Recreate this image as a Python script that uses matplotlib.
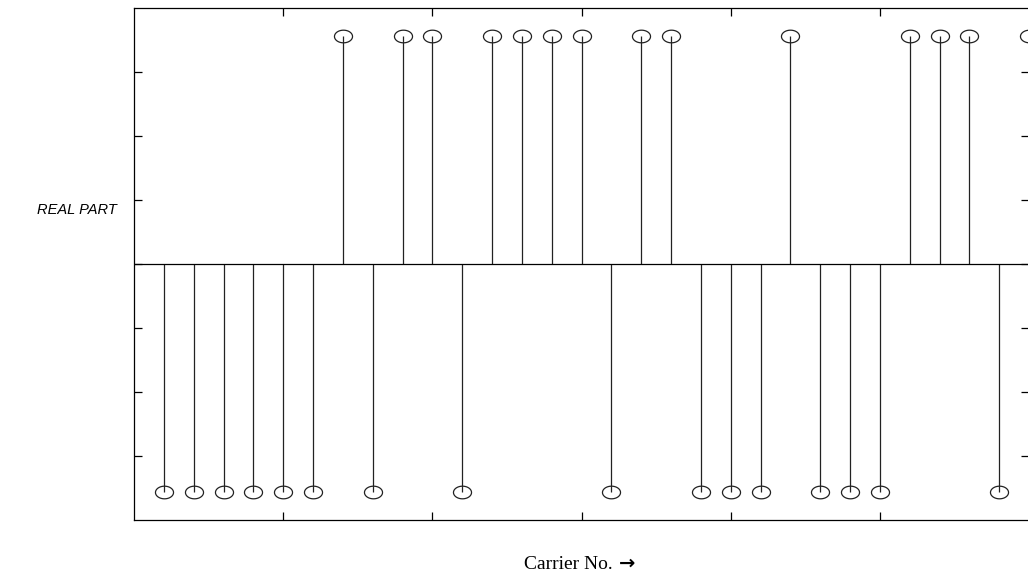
import numpy as np
import matplotlib
matplotlib.use("Agg")
import matplotlib.pyplot as plt
from matplotlib.path import Path

# carrier index and real part of each symbol (+1 / -1)
carriers = np.arange(1, 31)
real_part = [-1, -1, -1, -1, -1, -1, 1, -1, 1, 1,
             -1, 1, 1, 1, 1, -1, 1, 1, -1, -1,
             -1, 1, -1, -1, -1, 1, 1, 1, -1, 1]
x_ticks = [5, 10, 15, 20, 25]

# flattened circle as marker
t = np.linspace(0, 2 * np.pi, 60)
ellipse = Path(np.column_stack([np.cos(t), 0.7 * np.sin(t)]), closed=True)

fig = plt.figure(figsize=(10.28, 5.79), dpi=100)
ax = fig.add_axes([0.1304, 0.1019, 0.8706, 0.8843])

markerline, stemlines, baseline = ax.stem(carriers, real_part, linefmt='k-', basefmt=' ')
plt.setp(stemlines, color='#222222', linewidth=0.9)
plt.setp(markerline, marker=ellipse, markersize=13, markerfacecolor='none',
         markeredgecolor='#222222', markeredgewidth=0.9, linestyle='none')
ax.axhline(0, color='black', linewidth=0.9)

ax.set_xlim(0, 30)
ax.set_ylim(-1.125, 1.125)
ax.set_xticks(x_ticks)
ax.set_yticks(np.linspace(-1.125, 1.125, 9)[1:-1])
ax.tick_params(direction='in', top=True, right=True, length=6, width=0.9,
               labelbottom=False, labelleft=False)
for s in ax.spines.values():
    s.set_linewidth(0.9)

fig.text(0.036, 0.637, 'REAL PART', fontsize=10.5, style='italic',
         family=['Liberation Sans', 'DejaVu Sans'], va='center', ha='left')
fig.text(0.5095, 0.025, 'Carrier No.', fontsize=14,
         family=['Liberation Serif', 'DejaVu Serif'], va='center', ha='left')
fig.text(0.6025, 0.027, '\u2192', fontsize=14, fontweight='bold',
         family=['DejaVu Sans'], va='center', ha='left')

fig.savefig('out.png', dpi=100)
